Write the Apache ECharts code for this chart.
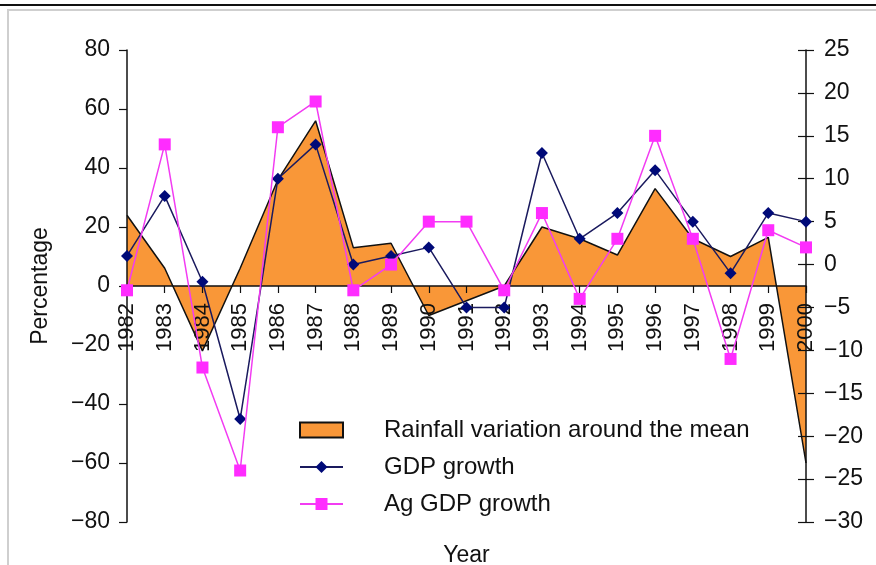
<!DOCTYPE html>
<html>
<head>
<meta charset="utf-8">
<script src="https://cdn.jsdelivr.net/npm/echarts@6/dist/echarts.min.js"></script>
<style>
html,body{margin:0;padding:0;background:#fff;}
#chart{width:876px;height:565px;}
</style>
</head>
<body>
<div id="chart"></div>
<script>
const years = ['1982','1983','1984','1985','1986','1987','1988','1989','1990','1991','1992','1993','1994','1995','1996','1997','1998','1999','2000'];
const rainfall = [24, 6, -22, 6, 36, 56, 13, 14.5, -10, -5, 0, 20, 16, 10.5, 33, 16, 10, 16.5, -60];
const gdpGrowth = [1, 8, -2, -18, 10, 14, 0, 1, 2, -5, -5, 13, 3, 6, 11, 5, -1, 6, 5];
const agGdpGrowth = [-3, 14, -12, -24, 16, 19, -3, 0, 5, 5, -3, 6, -4, 3, 15, 3, -11, 4, 2];
const seriesNames = ['Rainfall variation around the mean', 'GDP growth', 'Ag GDP growth'];

const FONT = '"Liberation Sans", Arial, Helvetica, sans-serif';
const ORANGE = '#F99738';
const NAVY = '#000A78';
const MAGENTA = '#F23CF2';
const minus = v => String(v).replace('-', '\u2212');

const GRID_TOP = 50, GRID_BOTTOM = 43, H = 565;
const gridHeight = H - GRID_TOP - GRID_BOTTOM;
// position of the left axis zero relative to the grid bottom (left axis runs -80..80)
const zeroOffset = -gridHeight / 2;

const chart = echarts.init(document.getElementById('chart'), null, {renderer: 'canvas'});
chart.setOption({
  animation: false,
  backgroundColor: '#fff',
  textStyle: {fontFamily: FONT, color: '#111'},
  graphic: [
    {type: 'line', shape: {x1: 0, y1: 5, x2: 876, y2: 5}, style: {stroke: '#111', lineWidth: 2}, z: 100},
    {type: 'rect', shape: {x: 8, y: 10, width: 900, height: 600}, style: {fill: 'none', stroke: '#cfcfcf', lineWidth: 2}, z: 100}
  ],
  legend: {
    orient: 'vertical',
    left: 294,
    top: 413,
    itemWidth: 43,
    itemHeight: 15,
    itemGap: 13,
    selectedMode: false,
    textStyle: {fontSize: 24, color: '#111', fontFamily: FONT, padding: [0, 0, 0, 36]},
    data: [
      {name: seriesNames[0], icon: 'rect', itemStyle: {color: ORANGE, borderColor: '#111', borderWidth: 2}},
      {name: seriesNames[1]},
      {name: seriesNames[2]}
    ]
  },
  grid: {left: 127, right: 70, top: GRID_TOP, bottom: GRID_BOTTOM, containLabel: false, outerBoundsMode: 'none'},
  xAxis: {
    type: 'category',
    data: years,
    boundaryGap: false,
    position: 'bottom',
    offset: zeroOffset,
    z: 5,
    name: 'Year',
    nameLocation: 'middle',
    nameGap: 258,
    nameTextStyle: {fontSize: 23, color: '#111', fontFamily: FONT},
    axisLine: {onZero: false, lineStyle: {color: '#111', width: 1.5}},
    axisTick: {show: true, inside: false, length: 7, alignWithLabel: true, interval: 0, lineStyle: {color: '#111', width: 1.2}},
    axisLabel: {interval: 0, rotate: 90, margin: 17, fontSize: 22, color: '#111', fontFamily: FONT},
    splitLine: {show: false}
  },
  yAxis: [
    {
      type: 'value', position: 'left', min: -80, max: 80, interval: 20, z: 5,
      name: 'Percentage', nameLocation: 'middle', nameGap: 75, nameRotate: 90,
      nameTextStyle: {fontSize: 23, color: '#111', fontFamily: FONT},
      axisLine: {show: true, onZero: false, lineStyle: {color: '#111', width: 1.5}},
      axisTick: {show: true, length: 8, lineStyle: {color: '#111', width: 1.2}},
      axisLabel: {margin: 17, fontSize: 23, color: '#111', fontFamily: FONT, formatter: minus},
      splitLine: {show: false}
    },
    {
      type: 'value', position: 'right', min: -30, max: 25, interval: 5, z: 5,
      axisLine: {show: true, onZero: false, lineStyle: {color: '#111', width: 1.5}},
      axisTick: {show: true, length: 8, lineStyle: {color: '#111', width: 1.2}},
      axisLabel: {margin: 18, fontSize: 23, color: '#111', fontFamily: FONT, formatter: minus},
      splitLine: {show: false}
    },
    {
      type: 'value', position: 'right', min: -30, max: 25, interval: 5, z: 5,
      axisLine: {show: false, onZero: false},
      axisTick: {show: true, inside: true, length: 8, lineStyle: {color: '#111', width: 1.2}},
      axisLabel: {show: false},
      splitLine: {show: false}
    }
  ],
  series: [
    {
      name: seriesNames[0], type: 'line', data: rainfall, yAxisIndex: 0, z: 1,
      symbol: 'none', color: ORANGE,
      lineStyle: {color: '#111', width: 1.5},
      areaStyle: {color: ORANGE, opacity: 1}
    },
    {
      name: seriesNames[1], type: 'line', data: gdpGrowth, yAxisIndex: 1, z: 6,
      symbol: 'diamond', symbolSize: 12, color: NAVY,
      itemStyle: {color: NAVY},
      lineStyle: {color: '#1a1a5e', width: 1.5}
    },
    {
      name: seriesNames[2], type: 'line', data: agGdpGrowth, yAxisIndex: 1, z: 7,
      symbol: 'rect', symbolSize: 12, color: MAGENTA,
      itemStyle: {color: '#FF2CFF'},
      lineStyle: {color: MAGENTA, width: 1.5}
    }
  ]
});
</script>
</body>
</html>
